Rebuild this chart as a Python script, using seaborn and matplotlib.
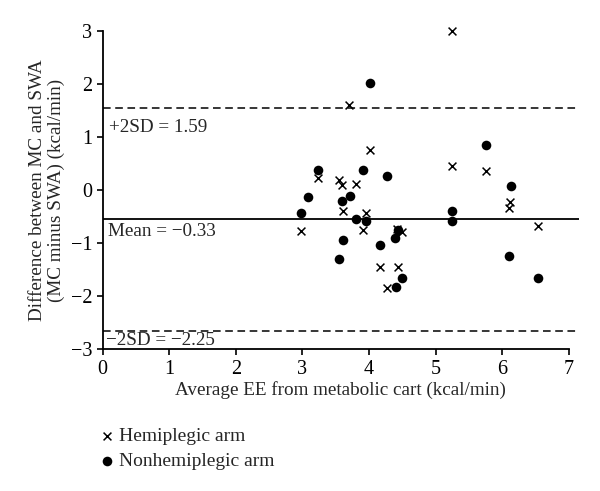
import pandas as pd
import numpy as np
import matplotlib.pyplot as plt
import seaborn as sns

# Bland-Altman data
hemi_x = [5.25, 3.70, 4.01, 5.25, 5.75, 3.24, 3.55, 3.59, 3.80, 2.98, 3.61,
          3.96, 3.91, 4.16, 4.44, 4.27, 4.42, 4.49, 6.12, 6.10, 6.54]
hemi_y = [3.00, 1.60, 0.75, 0.45, 0.36, 0.23, 0.19, 0.09, 0.11, -0.78, -0.40,
          -0.44, -0.75, -1.46, -1.46, -1.85, -0.74, -0.79, -0.23, -0.33, -0.67]

nonhemi_x = [4.01, 5.75, 6.13, 3.24, 3.91, 4.27, 3.09, 2.98, 3.59, 3.71, 3.80,
             3.96, 3.61, 3.55, 4.16, 4.49, 4.40, 4.44, 4.39, 5.25, 5.25, 6.10, 6.54]
nonhemi_y = [2.02, 0.85, 0.08, 0.38, 0.38, 0.26, -0.14, -0.44, -0.20, -0.11, -0.55,
             -0.58, -0.94, -1.31, -1.03, -1.65, -1.82, -0.75, -0.90, -0.40, -0.58, -1.24, -1.66]

# reference lines (drawn positions) and their labels
upper_sd = 1.55
mean_line = -0.55
lower_sd = -2.65
upper_label = "+2SD = 1.59"
mean_label = "Mean = \u22120.33"
lower_label = "\u22122SD = \u22122.25"

x_ticks = [0, 1, 2, 3, 4, 5, 6, 7]
y_ticks = [-3, -2, -1, 0, 1, 2, 3]

sns.set_theme(style="ticks")
plt.rcParams['font.family'] = ['Liberation Serif', 'DejaVu Serif']
plt.rcParams['font.size'] = 14

df_h = pd.DataFrame({"avg": hemi_x, "diff": hemi_y})
df_n = pd.DataFrame({"avg": nonhemi_x, "diff": nonhemi_y})

fig = plt.figure(figsize=(6.0, 4.91), dpi=100)
ax = fig.add_axes([0.171, 0.289, 0.794, 0.648])

sns.scatterplot(data=df_h, x="avg", y="diff", marker="x", color="black",
                s=32, linewidth=1.1, label="Hemiplegic arm", ax=ax, clip_on=False)
sns.scatterplot(data=df_n, x="avg", y="diff", marker="o", color="black",
                edgecolor="black", s=48, linewidth=0, label="Nonhemiplegic arm", ax=ax,
                clip_on=False)

ax.plot([0, 7.15], [upper_sd, upper_sd], color="black", linestyle=(0, (5, 3)), linewidth=1.1)
ax.plot([0, 7.15], [lower_sd, lower_sd], color="black", linestyle=(0, (5, 3)), linewidth=1.1)
ax.plot([0, 7.15], [mean_line, mean_line], color="black", linewidth=1.3)

ax.text(0.1, 1.17, upper_label, fontsize=13.8, va="center", ha="left")
ax.text(0.08, -0.79, mean_label, fontsize=13.8, va="center", ha="left")
ax.text(0.05, -2.84, lower_label, fontsize=13.8, va="center", ha="left")

ax.set_xlim(0, 7.15)
ax.set_ylim(-3, 3)
ax.set_xticks(x_ticks)
ax.set_yticks(y_ticks)
ax.set_yticklabels([str(t).replace("-", "\u2212") for t in y_ticks])
ax.spines["bottom"].set_bounds(0, 7)
sns.despine(ax=ax)
for s in ["left", "bottom"]:
    ax.spines[s].set_linewidth(1.3)
    ax.spines[s].set_color("black")
ax.tick_params(direction="out", length=4, width=1.2, colors="black", labelsize=14.5)

ax.set_xlabel("Average EE from metabolic cart (kcal/min)", fontsize=13.8, labelpad=2)
ax.set_ylabel("Difference between MC and SWA\n(MC minus SWA) (kcal/min)", fontsize=13.8,
              labelpad=4, linespacing=1.15)

ax.legend(loc="upper left", bbox_to_anchor=(0.15, 0.145), bbox_transform=fig.transFigure,
          frameon=False, fontsize=14, handletextpad=0.2, labelspacing=0.35,
          handlelength=0.9, borderaxespad=0)

fig.savefig("out.png", dpi=100)
